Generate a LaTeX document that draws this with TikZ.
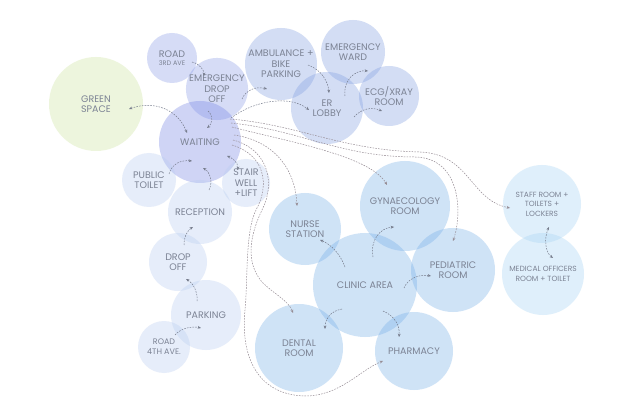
\documentclass[tikz,border=0pt]{standalone}
\usepackage{fontspec}
\setmainfont{Poppins}
\usetikzlibrary{arrows.meta,calc}
\definecolor{cGreen}{RGB}{206,229,158}
\definecolor{cLav}{RGB}{138,155,232}
\definecolor{cWait}{RGB}{118,132,229}
\definecolor{cAmb}{RGB}{129,158,226}
\definecolor{cLight}{RGB}{186,206,241}
\definecolor{cClinic}{RGB}{118,175,232}
\definecolor{cStaff}{RGB}{166,212,244}
\definecolor{txtgray}{RGB}{124,131,148}
\definecolor{arrgray}{RGB}{118,124,140}
\definecolor{fangray}{RGB}{150,140,148}
\tikzset{
  bubble/.style={circle, inner sep=0pt, fill opacity=0.35, text opacity=1, align=center,
    font=\fontsize{9.5}{10.5}\selectfont, text=txtgray},
  conn/.style={draw=arrgray, line width=0.5pt, dash pattern=on 1.6pt off 1.2pt,
    -{Stealth[length=3.4pt,width=2.8pt]}},
  dconn/.style={draw=arrgray, line width=0.5pt, dash pattern=on 1.6pt off 1.2pt,
    {Stealth[length=3.4pt,width=2.8pt]}-{Stealth[length=3.4pt,width=2.8pt]}},
  fan/.style={draw=fangray, line width=0.5pt, dash pattern=on 1.6pt off 1.2pt,
    -{Stealth[length=3.4pt,width=2.8pt]}}
}
\begin{document}
\begin{tikzpicture}[x=1pt,y=-1pt]
\useasboundingbox (0,0) rectangle (628,419);
\fill[white] (0,0) rectangle (628,419);

% bubbles
\node[bubble, fill=cGreen, minimum size=94pt] (green) at (96,104) {GREEN\\SPACE};
\node[bubble, fill=cLav, minimum size=50pt] (road3) at (172,58) {ROAD\\[-2.5pt]{\fontsize{6.5}{7}\selectfont 3RD AVE}};
\node[bubble, fill=cLav, minimum size=60pt] (edrop) at (217,89) {EMERGENCY\\DROP\\OFF};
\node[bubble, fill=cWait, minimum size=82pt] (waiting) at (200,142) {WAITING};
\node[bubble, fill=cLight, minimum size=54pt] (ptoilet) at (149,180) {PUBLIC\\TOILET};
\node[bubble, fill=cLight, minimum size=48pt] (stair) at (246,183) {STAIR\\WELL\\+LIFT};
\node[bubble, fill=cLight, minimum size=64pt] (reception) at (200,212) {RECEPTION};
\node[bubble, fill=cLight, minimum size=58pt] (dropoff) at (178,262) {DROP\\OFF};
\node[bubble, fill=cLight, minimum size=70pt] (parking) at (206,315) {PARKING};
\node[bubble, fill=cLight, minimum size=52pt, font=\fontsize{8}{10}\selectfont] (road4) at (164,347) {ROAD\\4TH AVE.};
\node[bubble, fill=cAmb, minimum size=72pt] (amb) at (281,64) {AMBULANCE +\\BIKE\\PARKING};
\node[bubble, fill=cAmb, minimum size=64pt] (eward) at (353,52) {EMERGENCY\\WARD};
\node[bubble, fill=cAmb, minimum size=72pt] (erlobby) at (327,108) {ER\\LOBBY};
\node[bubble, fill=cAmb, minimum size=60pt] (ecg) at (389,96) {ECG/XRAY\\ROOM};
\node[bubble, fill=cClinic, minimum size=72pt] (nurse) at (305,229) {NURSE\\STATION};
\node[bubble, fill=cClinic, minimum size=90pt] (gyn) at (405,206) {GYNAECOLOGY\\ROOM};
\node[bubble, fill=cClinic, minimum size=104pt] (clinic) at (365,285) {CLINIC AREA};
\node[bubble, fill=cClinic, minimum size=84pt] (ped) at (453,270) {PEDIATRIC\\ROOM};
\node[bubble, fill=cClinic, minimum size=88pt] (dental) at (299,348) {DENTAL\\ROOM};
\node[bubble, fill=cClinic, minimum size=78pt] (pharm) at (414,351) {PHARMACY};
\node[bubble, fill=cStaff, minimum size=78pt, font=\fontsize{7.5}{9.5}\selectfont] (staff) at (542,204) {STAFF ROOM +\\TOILETS +\\LOCKERS};
\node[bubble, fill=cStaff, minimum size=82pt, font=\fontsize{7.5}{9.5}\selectfont] (medoff) at (543,274) {MEDICAL OFFICERS\\ROOM + TOILET};

% short connectors
\draw[conn] ($(road3)+(20,4)$) .. controls (200,64) and (204,70) .. ($(edrop)+(-13,-13)$);
\draw[conn] ($(edrop)+(25,10)$) .. controls (246,90) and (256,86) .. ($(amb)+(-14,25)$);
\draw[conn] ($(edrop)+(-9,22)$) .. controls (214,116) and (212,124) .. ($(waiting)+(7,-14)$);
\draw[dconn] ($(green)+(33,5)$) .. controls (155,100) and (178,110) .. ($(waiting)+(-13,-9)$);
\draw[conn] ($(waiting)+(31,-24)$) .. controls (255,100) and (290,95) .. ($(erlobby)+(-18,2)$);
\draw[conn] ($(amb)+(27,1)$) .. controls (322,70) and (328,82) .. ($(erlobby)+(2,-15)$);
\draw[conn] ($(erlobby)+(18,-12)$) .. controls (343,80) and (355,70) .. ($(eward)+(15,19)$);
\draw[conn] ($(erlobby)+(27,9)$) .. controls (362,108) and (372,107) .. ($(ecg)+(-7,15)$);
\draw[conn] ($(ptoilet)+(20,-6)$) .. controls (172,163) and (182,160) .. ($(waiting)+(-8,19)$);
\draw[conn] ($(reception)+(9,-22)$) .. controls (213,182) and (210,172) .. ($(waiting)+(3,26)$);
\draw[dconn] ($(stair)+(-8,-13)$) .. controls (238,162) and (232,158) .. ($(waiting)+(27,14)$);
\draw[conn] ($(dropoff)+(6,-17)$) .. controls (184,236) and (188,230) .. ($(reception)+(-7,15)$);
\draw[conn] ($(parking)+(-9,-14)$) .. controls (198,292) and (193,283) .. ($(dropoff)+(8,17)$);
\draw[conn] ($(road4)+(11,-12)$) .. controls (181,328) and (192,326) .. ($(parking)+(-5,13)$);
\draw[conn] ($(clinic)+(-20,-18)$) .. controls (340,253) and (330,244) .. ($(nurse)+(15,11)$);
\draw[conn] ($(clinic)+(8,-28)$) .. controls (370,240) and (380,228) .. ($(gyn)+(-11,21)$);
\draw[conn] ($(clinic)+(39,3)$) .. controls (408,278) and (420,274) .. ($(ped)+(-22,6)$);
\draw[conn] ($(clinic)+(-23,24)$) .. controls (330,311) and (325,320) .. ($(dental)+(26,-19)$);
\draw[conn] ($(clinic)+(18,26)$) .. controls (395,316) and (400,326) .. ($(pharm)+(-15,-14)$);
\draw[dconn] ($(staff)+(7,23)$) .. controls (544,238) and (545,252) .. ($(medoff)+(10,-16)$);

% fan connectors from waiting
\draw[fan] ($(waiting)+(30,-23)$) .. controls (300,125) and (340,150) .. (420,152)
  .. controls (470,154) and (470,200) .. ($(staff)+(-32,4)$);
\draw[fan] ($(waiting)+(31,-19)$) .. controls (300,130) and (340,157) .. (415,157)
  .. controls (462,158) and (462,215) .. ($(ped)+(0,-29)$);
\draw[fan] ($(waiting)+(32,-15)$) .. controls (280,140) and (370,155) .. ($(gyn)+(-18,-21)$);
\draw[fan] ($(waiting)+(34,-7)$) .. controls (270,140) and (295,165) .. ($(nurse)+(-8,-23)$);
\draw[fan] ($(waiting)+(33,-2)$) .. controls (270,150) and (275,185) .. (262,210)
  .. controls (250,235) and (245,262) .. (262,282)
  .. controls (275,295) and (288,300) .. ($(dental)+(-6,-35)$);
\draw[fan] ($(waiting)+(32,3)$) .. controls (265,155) and (270,185) .. (256,210)
  .. controls (245,232) and (248,280) .. (245,310)
  .. controls (240,360) and (260,395) .. (305,396)
  .. controls (340,396) and (360,370) .. ($(pharm)+(-31,10)$);
\end{tikzpicture}
\end{document}
